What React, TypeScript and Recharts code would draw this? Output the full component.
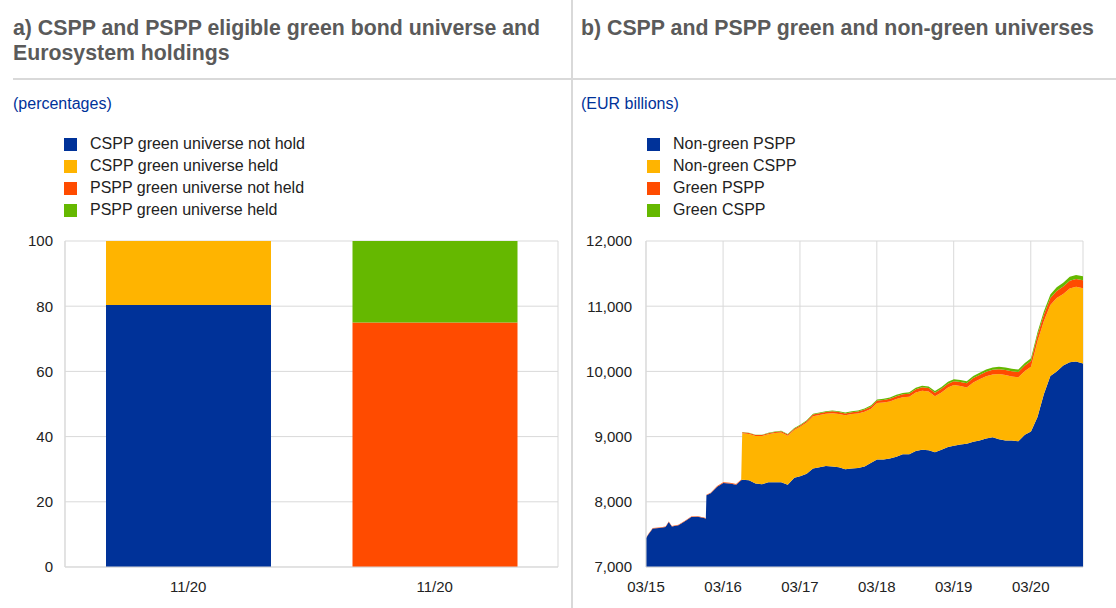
import { BarChart, Bar, AreaChart, Area, XAxis, YAxis, CartesianGrid } from "recharts";

// ---- panel a) ----
const barCategories = ["11/20", "11/20"];
const csppNotHeld = [80.4, 0];
const csppHeld = [19.6, 0];
const psppNotHeld = [0, 75];
const psppHeld = [0, 25];
const percentTicks = [0, 20, 40, 60, 80, 100];

// ---- panel b) ----
const dates = [
  "2015-03-09", "2015-03-20", "2015-04-10", "2015-05-10", "2015-06-10", "2015-06-25",
  "2015-07-10", "2015-08-10", "2015-09-10", "2015-10-10", "2015-11-10", "2015-12-10",
  "2015-12-18", "2015-12-21", "2016-01-10", "2016-02-10", "2016-03-10", "2016-04-10",
  "2016-05-10", "2016-06-03", "2016-06-08", "2016-07-10", "2016-08-10", "2016-09-10",
  "2016-10-10", "2016-11-10", "2016-12-10", "2017-01-10", "2017-02-10", "2017-03-10",
  "2017-04-10", "2017-05-10", "2017-06-10", "2017-07-10", "2017-08-10", "2017-09-10",
  "2017-10-10", "2017-11-10", "2017-12-10", "2018-01-10", "2018-02-10", "2018-03-10",
  "2018-04-10", "2018-05-10", "2018-06-10", "2018-07-10", "2018-08-10", "2018-09-10",
  "2018-10-10", "2018-11-10", "2018-12-10", "2019-01-10", "2019-02-10", "2019-03-10",
  "2019-04-10", "2019-05-10", "2019-06-10", "2019-07-10", "2019-08-10", "2019-09-10",
  "2019-10-10", "2019-11-10", "2019-12-10", "2020-01-10", "2020-02-10", "2020-03-10",
  "2020-04-10", "2020-05-10", "2020-06-10", "2020-07-10", "2020-08-10", "2020-09-10",
  "2020-10-10", "2020-11-12",
];
const nonGreenPSPP = [
  7440, 7500, 7590, 7600, 7615, 7690, 7620, 7640, 7700, 7765, 7770, 7750,
  7740, 8100, 8130, 8230, 8290, 8280, 8260, 8330, 8340, 8330, 8280, 8270,
  8300, 8300, 8300, 8260, 8370, 8390, 8430, 8510, 8530, 8550, 8540, 8530,
  8500, 8510, 8520, 8540, 8600, 8650, 8650, 8665, 8690, 8730, 8730, 8780,
  8800, 8790, 8760, 8800, 8840, 8860, 8880, 8890, 8920, 8940, 8970, 8990,
  8960, 8940, 8940, 8930, 9030, 9080, 9300, 9650, 9930, 10000, 10090, 10140,
  10150, 10120,
];
const nonGreenCSPP = [
  0, 0, 0, 0, 0, 0, 0, 0, 0, 0, 0, 0,
  0, 0, 0, 0, 0, 0, 0, 0, 712, 710, 729, 738,
  737, 756, 764, 753, 731, 760, 787, 804, 803, 801, 820, 818,
  827, 835, 834, 841, 829, 866, 873, 875, 887, 874, 881, 898,
  905, 902, 859, 876, 913, 930, 897, 864, 911, 938, 955, 962,
  999, 1006, 983, 980, 977, 993, 1162, 1120, 1090, 1124, 1098, 1132,
  1148, 1156,
];
const greenPSPP = [
  6, 6, 7, 7, 7, 7, 8, 8, 8, 9, 9, 9,
  9, 10, 10, 11, 11, 12, 12, 12, 13, 14, 14, 15,
  15, 16, 17, 18, 19, 20, 22, 24, 25, 26, 27, 28,
  29, 30, 31, 33, 34, 36, 38, 40, 42, 44, 46, 48,
  50, 52, 54, 56, 58, 60, 62, 64, 66, 68, 70, 72,
  74, 76, 78, 80, 82, 85, 92, 100, 106, 110, 114, 118,
  120, 122,
];
const greenCSPP = [
  0, 0, 0, 0, 0, 0, 0, 0, 0, 0, 0, 0,
  0, 0, 0, 0, 0, 0, 0, 0, 5, 6, 7, 7,
  8, 8, 9, 9, 10, 10, 11, 12, 12, 13, 13, 14,
  14, 15, 15, 16, 17, 18, 19, 20, 21, 22, 23, 24,
  25, 26, 27, 28, 29, 30, 31, 32, 33, 34, 35, 36,
  37, 38, 39, 40, 41, 42, 46, 50, 54, 56, 58, 60,
  62, 62,
];
const yearTicks = ["2015-03-09", "2016-03-09", "2017-03-09", "2018-03-09", "2019-03-09", "2020-03-09"];
const billionTicks = [7000, 8000, 9000, 10000, 11000, 12000];

const BLUE = "#003299";
const YELLOW = "#ffb400";
const ORANGE = "#ff4b00";
const GREEN = "#65b800";
const GRID = "#d9d9d9";
const FONT = "'Liberation Sans', Arial, sans-serif";

const barSeries = [
  { key: "cspNotHeld", name: "CSPP green universe not hold", color: BLUE, values: csppNotHeld },
  { key: "cspHeld", name: "CSPP green universe held", color: YELLOW, values: csppHeld },
  { key: "pspNotHeld", name: "PSPP green universe not held", color: ORANGE, values: psppNotHeld },
  { key: "pspHeld", name: "PSPP green universe held", color: GREEN, values: psppHeld },
];

const areaSeries = [
  { key: "ngPSPP", name: "Non-green PSPP", color: BLUE, values: nonGreenPSPP },
  { key: "ngCSPP", name: "Non-green CSPP", color: YELLOW, values: nonGreenCSPP },
  { key: "gPSPP", name: "Green PSPP", color: ORANGE, values: greenPSPP },
  { key: "gCSPP", name: "Green CSPP", color: GREEN, values: greenCSPP },
];

const barData = barCategories.map((label, i) => {
  const row: Record<string, any> = { label };
  barSeries.forEach((s) => (row[s.key] = s.values[i]));
  return row;
});

const areaData = dates.map((d, i) => {
  const row: Record<string, any> = { t: Date.parse(d) };
  areaSeries.forEach((s) => (row[s.key] = s.values[i]));
  return row;
});

const tickStyle = { fill: "#222", fontSize: 15, fontFamily: FONT };

function fmtMonth(t: number) {
  const d = new Date(t);
  const mm = String(d.getUTCMonth() + 1).padStart(2, "0");
  const yy = String(d.getUTCFullYear()).slice(2);
  return `${mm}/${yy}`;
}

function LegendList({ items, left }: { items: { name: string; color: string }[]; left: number }) {
  return (
    <div style={{ position: "absolute", left, top: 133 }}>
      {items.map((it) => (
        <div key={it.name} style={{ display: "flex", alignItems: "center", height: 22 }}>
          <span style={{ width: 13, height: 13, background: it.color, marginRight: 13, display: "inline-block" }} />
          <span style={{ fontSize: 16, color: "#222" }}>{it.name}</span>
        </div>
      ))}
    </div>
  );
}

export default function App() {
  return (
    <div
      style={{
        position: "absolute",
        left: 0,
        top: 0,
        width: 1116,
        height: 608,
        background: "#fff",
        fontFamily: FONT,
        overflow: "hidden",
      }}
    >
      {/* frame lines */}
      <div style={{ position: "absolute", left: 571, top: 0, width: 2, height: 608, background: GRID }} />
      <div style={{ position: "absolute", left: 13, top: 78, width: 1103, height: 2, background: GRID }} />

      {/* titles */}
      <div style={{ position: "absolute", left: 13, top: 16, width: 556, fontSize: 21.3, lineHeight: "25px", fontWeight: 700, color: "#5a5a5a" }}>
        a) CSPP and PSPP eligible green bond universe and Eurosystem holdings
      </div>
      <div style={{ position: "absolute", left: 581, top: 16, fontSize: 21.3, lineHeight: "25px", fontWeight: 700, color: "#5a5a5a" }}>
        b) CSPP and PSPP green and non-green universes
      </div>
      <div style={{ position: "absolute", left: 13, top: 95, fontSize: 16, color: BLUE }}>(percentages)</div>
      <div style={{ position: "absolute", left: 581, top: 95, fontSize: 16, color: BLUE }}>(EUR billions)</div>

      <LegendList items={barSeries} left={64} />
      <LegendList items={areaSeries} left={647} />

      {/* panel a */}
      <div style={{ position: "absolute", left: 0, top: 225 }}>
        <BarChart width={572} height={383} data={barData} margin={{ top: 16, right: 14, bottom: 11, left: 0 }}>
          <CartesianGrid xAxisId="grid" stroke={GRID} strokeWidth={1} />
          <XAxis
            xAxisId="cat"
            dataKey="label"
            tick={tickStyle}
            tickLine={false}
            tickMargin={8}
            axisLine={{ stroke: GRID }}
            height={30}
          />
          <XAxis
            xAxisId="grid"
            type="number"
            domain={[0, 2]}
            ticks={[0, 1, 2]}
            tick={false}
            tickLine={false}
            axisLine={false}
            height={0}
          />
          <YAxis
            domain={[0, 100]}
            ticks={percentTicks}
            tick={tickStyle}
            tickLine={false}
            tickMargin={6}
            axisLine={{ stroke: GRID }}
            width={65}
          />
          {barSeries.map((s) => (
            <Bar
              key={s.key}
              xAxisId="cat"
              dataKey={s.key}
              name={s.name}
              stackId="a"
              fill={s.color}
              barSize={165}
              isAnimationActive={false}
            />
          ))}
        </BarChart>
      </div>

      {/* panel b */}
      <div style={{ position: "absolute", left: 572, top: 225 }}>
        <AreaChart width={544} height={383} data={areaData} margin={{ top: 16, right: 33, bottom: 11, left: 0 }}>
          <CartesianGrid stroke={GRID} strokeWidth={1} />
          <XAxis
            dataKey="t"
            type="number"
            domain={["dataMin", "dataMax"]}
            ticks={yearTicks.map((d) => Date.parse(d))}
            tickFormatter={fmtMonth}
            tick={tickStyle}
            tickLine={false}
            tickMargin={8}
            axisLine={{ stroke: GRID }}
            height={30}
          />
          <YAxis
            domain={[7000, 12000]}
            allowDataOverflow
            ticks={billionTicks}
            tickFormatter={(v: number) => v.toLocaleString("en-US")}
            tick={tickStyle}
            tickLine={false}
            tickMargin={8}
            axisLine={{ stroke: GRID }}
            width={74}
          />
          {areaSeries.map((s) => (
            <Area
              key={s.key}
              type="linear"
              dataKey={s.key}
              name={s.name}
              stackId="b"
              stroke="none"
              fill={s.color}
              fillOpacity={1}
              isAnimationActive={false}
            />
          ))}
        </AreaChart>
      </div>
    </div>
  );
}
